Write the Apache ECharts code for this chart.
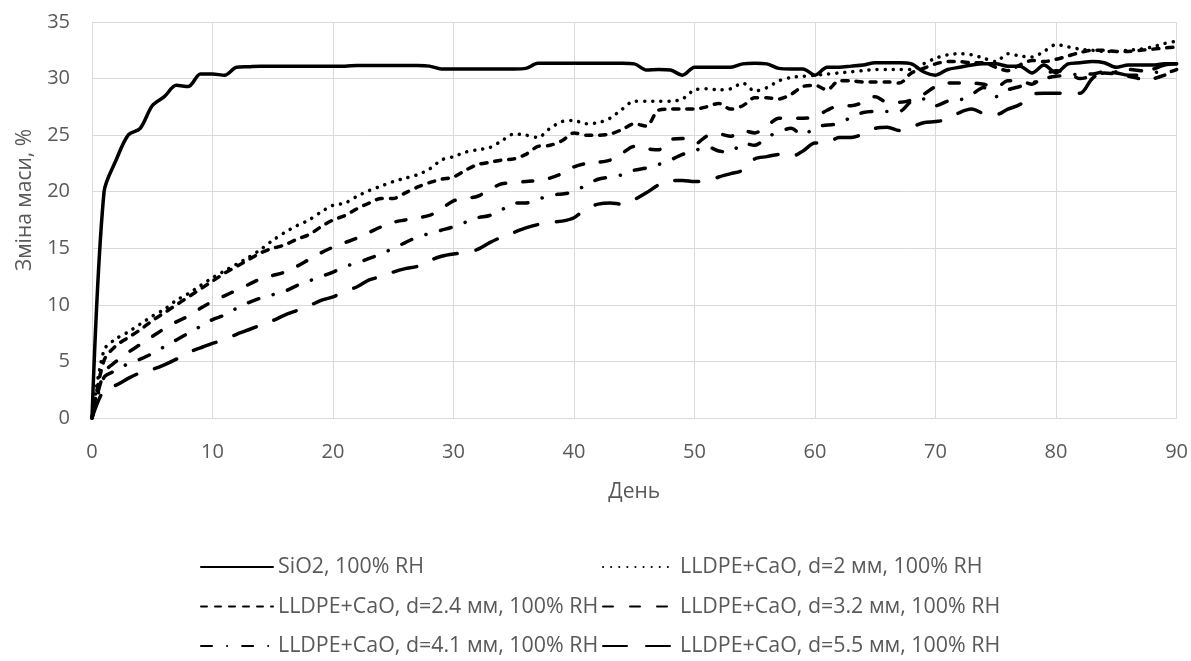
<!DOCTYPE html>
<html>
<head>
<meta charset="utf-8">
<script src="https://cdn.jsdelivr.net/npm/echarts@6/dist/echarts.min.js"></script>
<style>
  html, body { margin: 0; padding: 0; background: #fff; }
  #chart { width: 1191px; height: 661px; }
</style>
</head>
<body>
<div id="chart"></div>
<script>
// день (вісь X)
var days = [0, 1, 2, 3, 4, 5, 6, 7, 8, 9,
  10, 11, 12, 13, 14, 15, 16, 17, 18, 19,
  20, 21, 22, 23, 24, 25, 26, 27, 28, 29,
  30, 31, 32, 33, 34, 35, 36, 37, 38, 39,
  40, 41, 42, 43, 44, 45, 46, 47, 48, 49,
  50, 51, 52, 53, 54, 55, 56, 57, 58, 59,
  60, 61, 62, 63, 64, 65, 66, 67, 68, 69,
  70, 71, 72, 73, 74, 75, 76, 77, 78, 79,
  80, 81, 82, 83, 84, 85, 86, 87, 88, 89,
  90];

var seriesNames = [
  'SiO2, 100% RH',
  'LLDPE+CaO, d=2 мм, 100% RH',
  'LLDPE+CaO, d=2.4 мм, 100% RH',
  'LLDPE+CaO, d=3.2 мм, 100% RH',
  'LLDPE+CaO, d=4.1 мм, 100% RH',
  'LLDPE+CaO, d=5.5 мм, 100% RH'
];

var sio2 = [0, 20.0, 22.8, 25.0, 25.6, 27.6, 28.4, 29.4, 29.3, 30.4,
  30.4, 30.3, 31.0, 31.05, 31.1, 31.1, 31.1, 31.1, 31.1, 31.1,
  31.1, 31.1, 31.15, 31.15, 31.15, 31.15, 31.15, 31.15, 31.1, 30.85,
  30.85, 30.85, 30.85, 30.85, 30.85, 30.85, 30.9, 31.35, 31.35, 31.35,
  31.35, 31.35, 31.35, 31.35, 31.35, 31.3, 30.75, 30.8, 30.75, 30.3,
  31.0, 31.0, 31.0, 31.0, 31.3, 31.35, 31.3, 30.9, 30.85, 30.85,
  30.3, 31.0, 31.0, 31.1, 31.2, 31.4, 31.4, 31.4, 31.3, 30.6,
  30.3, 30.8, 31.0, 31.2, 31.3, 31.3, 31.1, 31.1, 30.5, 31.2,
  30.5, 31.3, 31.4, 31.5, 31.4, 31.0, 31.2, 31.2, 31.2, 31.3,
  31.3];

var d20 = [0, 6.0, 7.0, 7.6, 8.3, 9.0, 9.6, 10.4, 11.0, 11.7,
  12.4, 13.0, 13.6, 14.2, 14.9, 15.7, 16.4, 17.0, 17.5, 18.2,
  18.8, 19.0, 19.6, 20.1, 20.5, 20.9, 21.2, 21.5, 22.0, 22.8,
  23.1, 23.5, 23.7, 23.9, 24.5, 25.1, 25.0, 24.8, 25.6, 26.2,
  26.3, 26.0, 26.1, 26.5, 27.3, 28.0, 28.0, 28.0, 28.0, 28.2,
  29.0, 29.1, 29.0, 29.1, 29.6, 28.9, 29.2, 29.8, 30.1, 30.2,
  30.3, 30.4, 30.5, 30.6, 30.7, 30.8, 30.8, 30.8, 30.8, 31.3,
  31.8, 32.1, 32.2, 32.1, 31.8, 31.5, 32.2, 32.0, 31.9, 32.4,
  33.0, 32.8, 32.6, 32.5, 32.4, 32.4, 32.5, 32.6, 32.8, 33.1,
  33.3];

var d24 = [0, 5.1, 6.4, 7.1, 7.8, 8.6, 9.3, 10.0, 10.7, 11.4,
  12.1, 12.8, 13.4, 14.0, 14.6, 15.0, 15.3, 15.8, 16.2, 16.9,
  17.5, 17.9, 18.5, 19.0, 19.4, 19.4, 19.9, 20.4, 20.8, 21.1,
  21.3, 21.9, 22.4, 22.6, 22.8, 22.9, 23.3, 24.0, 24.1, 24.5,
  25.2, 25.0, 25.0, 25.1, 25.5, 26.0, 25.8, 27.2, 27.3, 27.3,
  27.3, 27.5, 27.8, 27.3, 27.6, 28.3, 28.3, 28.2, 28.6, 29.3,
  29.4, 29.0, 29.8, 29.8, 29.7, 29.7, 29.7, 29.6, 30.5, 30.9,
  31.3, 31.5, 31.5, 31.4, 31.4, 31.0, 30.7, 31.2, 31.6, 31.5,
  31.7, 32.0, 32.3, 32.5, 32.5, 32.4, 32.4, 32.5, 32.6, 32.7,
  32.8];

var d32 = [0, 4.0, 5.0, 5.8, 6.5, 7.2, 7.9, 8.5, 9.0, 9.7,
  10.3, 10.8, 11.3, 11.8, 12.3, 12.6, 12.9, 13.4, 14.0, 14.6,
  15.1, 15.5, 15.9, 16.4, 16.9, 17.3, 17.5, 17.7, 17.9, 18.5,
  19.2, 19.4, 19.6, 20.2, 20.7, 20.8, 20.9, 21.0, 21.2, 21.6,
  22.2, 22.5, 22.6, 22.8, 23.4, 24.0, 23.8, 23.7, 24.6, 24.7,
  24.2, 24.9, 25.1, 24.9, 25.4, 25.2, 25.8, 26.5, 26.5, 26.5,
  26.6, 27.2, 27.6, 27.6, 27.9, 28.4, 27.9, 27.9, 28.1, 28.6,
  29.3, 29.6, 29.6, 29.6, 29.5, 29.2, 29.8, 29.8, 29.5, 30.3,
  30.7, 30.5, 30.0, 30.2, 30.5, 30.4, 30.2, 30.0, 30.0, 30.3,
  30.8];

var d41 = [0, 3.6, 4.2, 4.8, 5.2, 5.7, 6.3, 6.9, 7.5, 8.1,
  8.7, 9.1, 9.7, 10.2, 10.6, 10.9, 11.2, 11.7, 12.1, 12.5,
  12.9, 13.4, 13.7, 14.1, 14.5, 15.0, 15.5, 16.0, 16.3, 16.6,
  16.9, 17.3, 17.7, 17.9, 18.4, 19.0, 19.0, 19.3, 19.7, 19.8,
  20.0, 20.6, 21.1, 21.3, 21.5, 21.9, 22.1, 22.4, 22.8, 23.3,
  23.6, 24.0, 23.6, 23.5, 24.3, 24.1, 24.8, 25.3, 25.6, 25.0,
  25.7, 25.9, 26.0, 26.6, 27.0, 27.1, 27.1, 27.1, 28.0, 28.2,
  27.6, 28.0, 28.1, 28.6, 29.2, 28.4, 29.0, 29.3, 29.6, 30.0,
  30.2, 30.3, 30.4, 30.4, 30.6, 30.6, 30.8, 30.7, 30.6, 30.5,
  30.8];

var d55 = [0, 2.5, 2.9, 3.5, 4.0, 4.3, 4.7, 5.2, 5.8, 6.2,
  6.6, 6.9, 7.4, 7.8, 8.2, 8.6, 9.1, 9.5, 9.9, 10.4,
  10.7, 11.2, 11.6, 12.2, 12.5, 12.9, 13.2, 13.4, 13.9, 14.3,
  14.5, 14.6, 14.9, 15.5, 16.0, 16.4, 16.8, 17.1, 17.3, 17.4,
  17.7, 18.5, 18.9, 19.0, 18.9, 19.3, 19.9, 20.6, 21.0, 21.0,
  20.9, 20.9, 21.3, 21.6, 21.9, 22.9, 23.1, 23.3, 23.1, 23.6,
  24.3, 24.3, 24.8, 24.8, 25.1, 25.6, 25.7, 25.4, 25.7, 26.1,
  26.2, 26.4, 27.0, 27.3, 26.9, 26.8, 27.3, 27.7, 28.6, 28.7,
  28.7, 28.7, 28.7, 30.0, 30.6, 30.5, 30.3, 30.3, 30.8, 31.2,
  31.3];

var allValues = [sio2, d20, d24, d32, d41, d55];
// тип лінії для кожної серії
var dashes = ['solid', [0.1, 8], [6, 8], [10, 17], [11, 15, 0.1, 15], [24, 19]];

var FONT = "'Open Sans', 'Noto Sans', sans-serif";
var GREY = '#595959';

function pairs(vals) {
  var out = [];
  for (var i = 0; i < days.length; i++) out.push([days[i], vals[i]]);
  return out;
}

var series = [];
for (var s = 0; s < seriesNames.length; s++) {
  series.push({
    name: seriesNames[s],
    type: 'line',
    symbol: 'none',
    smooth: 0.3,
    data: pairs(allValues[s]),
    lineStyle: { color: '#000', width: 3.5, type: dashes[s], cap: 'round', join: 'round' },
    itemStyle: { color: '#000' }
  });
}

var legendText = { color: GREY, fontSize: 21.4, fontFamily: FONT, lineHeight: 24 };

var chart = echarts.init(document.getElementById('chart'));
var option = {
  animation: false,
  backgroundColor: '#fff',
  grid: { left: 92, right: 14, top: 22, bottom: 243 },
  legend: [{
    orient: 'vertical', left: 200, top: 555, padding: 0,
    itemWidth: 72, itemHeight: 14, itemGap: 15.5,
    itemStyle: { opacity: 0 },
    data: [seriesNames[0], seriesNames[2], seriesNames[4]],
    textStyle: legendText
  }, {
    orient: 'vertical', left: 602, top: 555, padding: 0,
    itemWidth: 72, itemHeight: 14, itemGap: 15.5,
    itemStyle: { opacity: 0 },
    data: [seriesNames[1], seriesNames[3], seriesNames[5]],
    textStyle: legendText
  }],
  xAxis: {
    type: 'value', min: 0, max: 90, interval: 10,
    name: 'День', nameLocation: 'middle', nameGap: 64,
    nameTextStyle: { color: GREY, fontSize: 21, fontFamily: FONT },
    axisLine: { show: true, lineStyle: { color: '#d9d9d9', width: 1 } },
    axisTick: { show: false },
    axisLabel: { color: GREY, fontSize: 20, fontFamily: FONT, margin: 24 },
    splitLine: { show: true, lineStyle: { color: '#d9d9d9', width: 1 } }
  },
  yAxis: {
    type: 'value', min: 0, max: 35, interval: 5,
    name: 'Зміна маси, %', nameLocation: 'middle', nameGap: 56,
    nameTextStyle: { color: GREY, fontSize: 21, fontFamily: FONT, padding: [0, 0, 0, 40] },
    axisLine: { show: false },
    axisTick: { show: false },
    axisLabel: { color: GREY, fontSize: 20, fontFamily: FONT, margin: 22 },
    splitLine: { show: true, lineStyle: { color: '#d9d9d9', width: 1 } }
  },
  series: series
};
chart.setOption(option);
</script>
</body>
</html>
